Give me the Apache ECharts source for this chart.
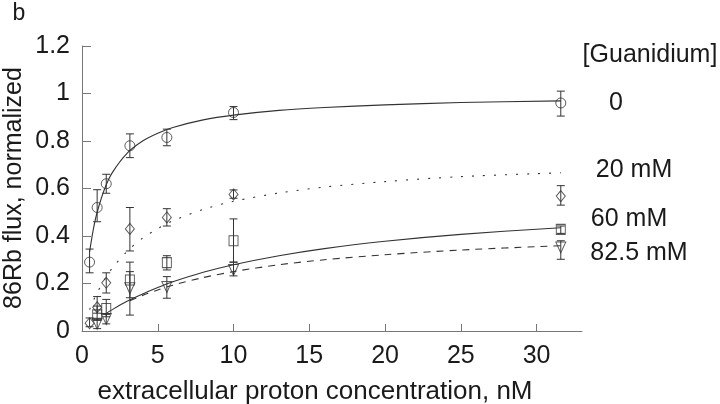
<!DOCTYPE html>
<html>
<head>
<meta charset="utf-8">
<script src="https://cdn.jsdelivr.net/npm/echarts@6/dist/echarts.min.js"></script>
<style>
html,body{margin:0;padding:0;background:#fff;}
#chart{width:720px;height:404px;}
</style>
</head>
<body>
<div id="chart"></div>
<script>
// ---- data ----
const xTicks = [0, 5, 10, 15, 20, 25, 30];
const yTicks = [0, 0.2, 0.4, 0.6, 0.8, 1, 1.2];

// [Guanidium] = 0 (circles)
const x0 = [0.5, 1, 1.6, 3.16, 5.6, 10, 31.6];
const y0 = [0.29, 0.52, 0.62, 0.78, 0.815, 0.92, 0.96];
const lo0 = [0.245, 0.46, 0.58, 0.73, 0.78, 0.89, 0.905];
const hi0 = [0.345, 0.595, 0.66, 0.83, 0.85, 0.945, 1.01];

// 20 mM (diamonds)
const x20 = [0.5, 1, 1.6, 3.16, 5.6, 10, 31.6];
const y20 = [0.033, 0.10, 0.203, 0.43, 0.478, 0.575, 0.568];
const lo20 = [0.018, 0.075, 0.16, 0.337, 0.442, 0.559, 0.53];
const hi20 = [0.055, 0.145, 0.245, 0.52, 0.515, 0.594, 0.612];

// 60 mM (squares)
const x60 = [1, 1.6, 3.16, 5.6, 10, 31.6];
const y60 = [0.068, 0.095, 0.215, 0.288, 0.38, 0.428];
const lo60 = [0.045, 0.06, 0.14, 0.257, 0.29, 0.411];
const hi60 = [0.105, 0.133, 0.29, 0.317, 0.472, 0.442];

// 82.5 mM (down triangles)
const x82 = [1, 1.6, 3.16, 5.6, 10, 31.6];
const y82 = [0.03, 0.05, 0.18, 0.185, 0.257, 0.352];
const lo82 = [0.01, 0.03, 0.067, 0.138, 0.232, 0.302];
const hi82 = [0.05, 0.07, 0.25, 0.229, 0.29, 0.38];

// fitted curves
const fitX0 = [0.5, 0.75, 1, 1.5, 2, 3, 4, 5, 6, 8, 10, 13, 16, 20, 25, 31.6];
const fitY0 = [0.333, 0.429, 0.5, 0.6, 0.667, 0.75, 0.8, 0.833, 0.857, 0.889, 0.909, 0.929, 0.941, 0.952, 0.962, 0.969];
const fitX20 = [0.5, 0.75, 1, 1.5, 2, 3, 4, 5, 6, 8, 10, 13, 16, 20, 25, 31.6];
const fitY20 = [0.09, 0.128, 0.161, 0.218, 0.265, 0.337, 0.391, 0.431, 0.464, 0.512, 0.546, 0.581, 0.606, 0.629, 0.65, 0.666];
const fitX60 = [1.5, 2, 3, 4, 5, 6, 8, 10, 13, 16, 20, 25, 31.6];
const fitY60 = [0.07, 0.09, 0.126, 0.156, 0.183, 0.207, 0.247, 0.279, 0.317, 0.347, 0.378, 0.407, 0.435];
const fitX82 = [3.16, 4, 5, 6, 8, 10, 13, 16, 20, 25, 31.6];
const fitY82 = [0.127, 0.15, 0.173, 0.193, 0.225, 0.25, 0.279, 0.30, 0.321, 0.341, 0.359];

const legendLabels = ['[Guanidium]', '0', '20 mM', '60 mM', '82.5 mM'];
const xTitle = 'extracellular proton concentration, nM';
const yTitle = '86Rb flux, normalized';
const panelLabel = 'b';

// ---- build chart ----
const FONT = 'Liberation Sans, Arial, sans-serif';
const INK = '#1a1a1a';
const pairs = (xs, ys) => xs.map((x, i) => [x, ys[i]]);
const bars = (xs, lo, hi) => xs.map((x, i) => [x, lo[i], hi[i]]);

function errRender(params, api) {
  const x = api.value(0), lo = api.value(1), hi = api.value(2);
  const a = api.coord([x, lo]), b = api.coord([x, hi]);
  const w = 4;
  const st = { stroke: '#333', lineWidth: 1 };
  return {
    type: 'group',
    children: [
      { type: 'line', shape: { x1: a[0], y1: a[1], x2: b[0], y2: b[1] }, style: st },
      { type: 'line', shape: { x1: a[0] - w, y1: a[1], x2: a[0] + w, y2: a[1] }, style: st },
      { type: 'line', shape: { x1: b[0] - w, y1: b[1], x2: b[0] + w, y2: b[1] }, style: st }
    ]
  };
}

function errSeries(xs, lo, hi) {
  return {
    type: 'custom', renderItem: errRender, data: bars(xs, lo, hi),
    encode: { x: 0, y: [1, 2] }, z: 3, silent: true
  };
}
function markSeries(xs, ys, symbol, size, rotate) {
  return {
    type: 'scatter', data: pairs(xs, ys), symbol: symbol, symbolSize: size,
    symbolRotate: rotate || 0, z: 4, silent: true,
    itemStyle: { color: 'rgba(255,255,255,0)', borderColor: '#333', borderWidth: 1 }
  };
}
function fitSeries(xs, ys, type) {
  return {
    type: 'line', data: pairs(xs, ys), showSymbol: false, smooth: 0.3, z: 2, silent: true,
    lineStyle: { color: '#333', width: 1.1, type: type }
  };
}

const chart = echarts.init(document.getElementById('chart'), null, { renderer: 'canvas' });
chart.setOption({
  backgroundColor: '#fff',
  animation: false,
  grid: { left: 82, right: 138, top: 46, bottom: 73 },
  xAxis: {
    type: 'value', min: 0, max: 33, interval: 5,
    axisLine: { show: true, lineStyle: { color: '#777', width: 1 } },
    axisTick: { show: true, inside: true, length: 7, customValues: xTicks, lineStyle: { color: '#777' } },
    axisLabel: { customValues: xTicks, fontFamily: FONT, fontSize: 25, color: INK, margin: 13 },
    splitLine: { show: false }
  },
  yAxis: {
    type: 'value', min: 0, max: 1.2, interval: 0.2,
    axisLine: { show: true, lineStyle: { color: '#777', width: 1 } },
    axisTick: { show: true, inside: true, length: 9, customValues: yTicks, lineStyle: { color: '#777' } },
    axisLabel: { customValues: yTicks, fontFamily: FONT, fontSize: 25, color: INK, margin: 12 },
    splitLine: { show: false }
  },
  graphic: [
    { type: 'text', x: 19, y: 14, style: { text: panelLabel, font: '23px ' + FONT, fill: INK, align: 'center', verticalAlign: 'middle' } },
    { type: 'text', x: 14, y: 188, rotation: Math.PI / 2, style: { text: yTitle, font: '25px ' + FONT, fill: INK, align: 'center', verticalAlign: 'middle' } },
    { type: 'text', x: 315, y: 392, style: { text: xTitle, font: '26px ' + FONT, fill: INK, align: 'center', verticalAlign: 'middle' } },
    { type: 'text', x: 650, y: 55, style: { text: legendLabels[0], font: '25px ' + FONT, fill: INK, align: 'center', verticalAlign: 'middle' } },
    { type: 'text', x: 616, y: 103, style: { text: legendLabels[1], font: '25px ' + FONT, fill: INK, align: 'center', verticalAlign: 'middle' } },
    { type: 'text', x: 634, y: 170, style: { text: legendLabels[2], font: '25px ' + FONT, fill: INK, align: 'center', verticalAlign: 'middle' } },
    { type: 'text', x: 629, y: 219, style: { text: legendLabels[3], font: '25px ' + FONT, fill: INK, align: 'center', verticalAlign: 'middle' } },
    { type: 'text', x: 639, y: 253, style: { text: legendLabels[4], font: '25px ' + FONT, fill: INK, align: 'center', verticalAlign: 'middle' } }
  ],
  series: [
    fitSeries(fitX0, fitY0, 'solid'),
    fitSeries(fitX20, fitY20, [2, 9]),
    fitSeries(fitX60, fitY60, 'solid'),
    fitSeries(fitX82, fitY82, [7, 6]),
    errSeries(x0, lo0, hi0),
    errSeries(x20, lo20, hi20),
    errSeries(x60, lo60, hi60),
    errSeries(x82, lo82, hi82),
    markSeries(x0, y0, 'circle', 10),
    markSeries(x20, y20, 'diamond', [9, 11]),
    markSeries(x60, y60, 'rect', [9, 10]),
    markSeries(x82, y82, 'triangle', [10, 11], 180)
  ]
});
</script>
</body>
</html>
